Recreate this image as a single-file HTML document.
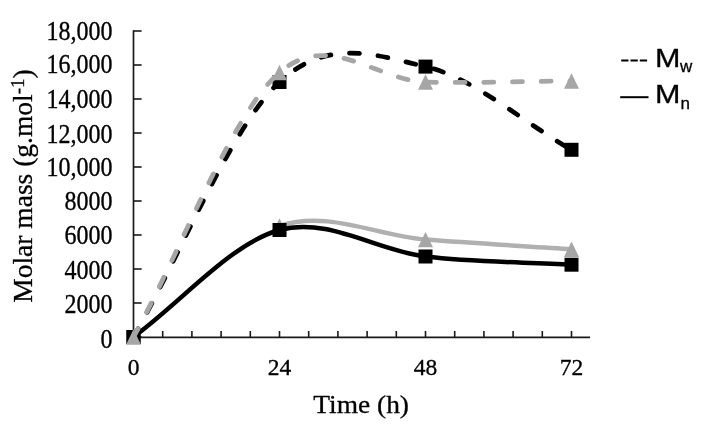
<!DOCTYPE html>
<html><head><meta charset="utf-8"><style>
html,body{margin:0;padding:0;background:#fff;}
svg{display:block;will-change:transform;}
.yl{font-family:"Liberation Serif",serif;font-size:24px;fill:#000;stroke:#000;stroke-width:0.3px;}
.xl{font-family:"Liberation Serif",serif;font-size:23.5px;fill:#000;stroke:#000;stroke-width:0.3px;}
.xt{font-family:"Liberation Serif",serif;font-size:26px;fill:#000;stroke:#000;stroke-width:0.3px;}
.yt{font-family:"Liberation Serif",serif;font-size:27.5px;fill:#000;stroke:#000;stroke-width:0.3px;}
.lg{font-family:"Liberation Sans",sans-serif;font-size:25px;fill:#000;stroke:#000;stroke-width:0.3px;}
.ls{font-family:"Liberation Sans",sans-serif;font-size:17px;fill:#000;stroke:#000;stroke-width:0.3px;}
</style></head><body>
<svg width="707" height="429" viewBox="0 0 707 429">
<rect width="707" height="429" fill="#fff"/>
<path d="M133.5,30.2 V337.4 H590" fill="none" stroke="#1a1a1a" stroke-width="1.7"/>
<line x1="133.5" y1="31.0" x2="141.6" y2="31.0" stroke="#1a1a1a" stroke-width="1.6"/>
<line x1="133.5" y1="65.0" x2="141.6" y2="65.0" stroke="#1a1a1a" stroke-width="1.6"/>
<line x1="133.5" y1="99.0" x2="141.6" y2="99.0" stroke="#1a1a1a" stroke-width="1.6"/>
<line x1="133.5" y1="133.0" x2="141.6" y2="133.0" stroke="#1a1a1a" stroke-width="1.6"/>
<line x1="133.5" y1="167.0" x2="141.6" y2="167.0" stroke="#1a1a1a" stroke-width="1.6"/>
<line x1="133.5" y1="201.0" x2="141.6" y2="201.0" stroke="#1a1a1a" stroke-width="1.6"/>
<line x1="133.5" y1="235.0" x2="141.6" y2="235.0" stroke="#1a1a1a" stroke-width="1.6"/>
<line x1="133.5" y1="269.0" x2="141.6" y2="269.0" stroke="#1a1a1a" stroke-width="1.6"/>
<line x1="133.5" y1="303.0" x2="141.6" y2="303.0" stroke="#1a1a1a" stroke-width="1.6"/>
<line x1="133.5" y1="337.0" x2="141.6" y2="337.0" stroke="#1a1a1a" stroke-width="1.6"/>
<line x1="162.7" y1="337.5" x2="162.7" y2="331" stroke="#1a1a1a" stroke-width="1.6"/>
<line x1="191.9" y1="337.5" x2="191.9" y2="331" stroke="#1a1a1a" stroke-width="1.6"/>
<line x1="221.1" y1="337.5" x2="221.1" y2="331" stroke="#1a1a1a" stroke-width="1.6"/>
<line x1="250.3" y1="337.5" x2="250.3" y2="331" stroke="#1a1a1a" stroke-width="1.6"/>
<line x1="279.5" y1="337.5" x2="279.5" y2="331" stroke="#1a1a1a" stroke-width="1.6"/>
<line x1="308.7" y1="337.5" x2="308.7" y2="331" stroke="#1a1a1a" stroke-width="1.6"/>
<line x1="337.9" y1="337.5" x2="337.9" y2="331" stroke="#1a1a1a" stroke-width="1.6"/>
<line x1="367.1" y1="337.5" x2="367.1" y2="331" stroke="#1a1a1a" stroke-width="1.6"/>
<line x1="396.3" y1="337.5" x2="396.3" y2="331" stroke="#1a1a1a" stroke-width="1.6"/>
<line x1="425.5" y1="337.5" x2="425.5" y2="331" stroke="#1a1a1a" stroke-width="1.6"/>
<line x1="454.7" y1="337.5" x2="454.7" y2="331" stroke="#1a1a1a" stroke-width="1.6"/>
<line x1="483.9" y1="337.5" x2="483.9" y2="331" stroke="#1a1a1a" stroke-width="1.6"/>
<line x1="513.1" y1="337.5" x2="513.1" y2="331" stroke="#1a1a1a" stroke-width="1.6"/>
<line x1="542.3" y1="337.5" x2="542.3" y2="331" stroke="#1a1a1a" stroke-width="1.6"/>
<line x1="571.5" y1="337.5" x2="571.5" y2="331" stroke="#1a1a1a" stroke-width="1.6"/>
<path d="M279.50,226.00 C328.17,209.77 376.83,235.73 425.50,239.60 C474.17,243.47 522.83,246.00 571.50,249.20" fill="none" stroke="#b0b0b0" stroke-width="4.5" stroke-linecap="round"/>
<path d="M279.50,218.30 L287.00,233.70 L272.00,233.70 Z" fill="#a6a6a6"/>
<path d="M425.50,231.90 L433.00,247.30 L418.00,247.30 Z" fill="#a6a6a6"/>
<path d="M571.50,241.50 L579.00,256.90 L564.00,256.90 Z" fill="#a6a6a6"/>
<path d="M133.50,337.00 C182.17,301.33 230.83,243.42 279.50,230.00 C328.17,216.58 376.83,250.72 425.50,256.50 C474.17,262.28 522.83,261.97 571.50,264.70" fill="none" stroke="#000" stroke-width="4.5" stroke-linecap="round"/>
<rect x="126.50" y="330.00" width="14" height="14" fill="#000"/>
<rect x="272.50" y="223.00" width="14" height="14" fill="#000"/>
<rect x="418.50" y="249.50" width="14" height="14" fill="#000"/>
<rect x="564.50" y="257.70" width="14" height="14" fill="#000"/>
<path d="M133.50,337.00 C182.17,252.00 230.83,127.07 279.50,82.00 C328.17,36.93 376.83,55.30 425.50,66.60 C474.17,77.90 522.83,122.07 571.50,149.80" fill="none" stroke="#000" stroke-width="4.75" stroke-dasharray="10 18.68" stroke-dashoffset="0.5" stroke-linecap="round"/>
<rect x="126.50" y="330.00" width="14" height="14" fill="#000"/>
<rect x="272.50" y="75.00" width="14" height="14" fill="#000"/>
<rect x="418.50" y="59.60" width="14" height="14" fill="#000"/>
<rect x="564.50" y="142.80" width="14" height="14" fill="#000"/>
<path d="M133.50,337.00 C182.17,248.83 230.83,115.00 279.50,72.50 C328.17,30.00 376.83,80.58 425.50,82.00 C474.17,83.42 522.83,81.33 571.50,81.00" fill="none" stroke="#a6a6a6" stroke-width="4.75" stroke-dasharray="10 18.68" stroke-dashoffset="0.5" stroke-linecap="round"/>
<path d="M133.50,329.30 L141.00,344.70 L126.00,344.70 Z" fill="#a6a6a6"/>
<path d="M279.50,64.80 L287.00,80.20 L272.00,80.20 Z" fill="#a6a6a6"/>
<path d="M425.50,74.30 L433.00,89.70 L418.00,89.70 Z" fill="#a6a6a6"/>
<path d="M571.50,73.30 L579.00,88.70 L564.00,88.70 Z" fill="#a6a6a6"/>
<text transform="translate(112.6,40.0) scale(1,1.17)" text-anchor="end" class="yl">18,000</text>
<text transform="translate(112.6,73.4) scale(1,1.17)" text-anchor="end" class="yl">16,000</text>
<text transform="translate(112.6,107.7) scale(1,1.17)" text-anchor="end" class="yl">14,000</text>
<text transform="translate(112.6,142.6) scale(1,1.17)" text-anchor="end" class="yl">12,000</text>
<text transform="translate(112.6,176.3) scale(1,1.17)" text-anchor="end" class="yl">10,000</text>
<text transform="translate(112.6,209.7) scale(1,1.17)" text-anchor="end" class="yl">8000</text>
<text transform="translate(112.6,244.2) scale(1,1.17)" text-anchor="end" class="yl">6000</text>
<text transform="translate(112.6,278.5) scale(1,1.17)" text-anchor="end" class="yl">4000</text>
<text transform="translate(112.6,313.3) scale(1,1.17)" text-anchor="end" class="yl">2000</text>
<text transform="translate(112.6,348.0) scale(1,1.17)" text-anchor="end" class="yl">0</text>
<text x="133.5" y="374.7" text-anchor="middle" class="xl">0</text>
<text x="279.5" y="374.7" text-anchor="middle" class="xl">24</text>
<text x="425.5" y="374.7" text-anchor="middle" class="xl">48</text>
<text x="571.5" y="374.7" text-anchor="middle" class="xl">72</text>
<text transform="translate(361.1,412.8) scale(1.055,1)" text-anchor="middle" class="xt">Time (h)</text>
<text transform="translate(32,186) rotate(-90)" text-anchor="middle" class="yt">Molar mass (g.mol<tspan dy="-8.5" font-size="19">-1</tspan><tspan dy="8.5">)</tspan></text>
<line x1="621.2" y1="60.5" x2="647.2" y2="60.5" stroke="#000" stroke-width="2" stroke-dasharray="7.3 2"/>
<line x1="620.2" y1="97.2" x2="648.5" y2="97.2" stroke="#000" stroke-width="2"/>
<text transform="translate(655,66.8) scale(1.22,1)" class="lg">M</text><text x="680" y="72" class="ls">w</text>
<text transform="translate(655,103.2) scale(1.22,1)" class="lg">M</text><text x="680.5" y="108.8" class="ls">n</text>
</svg>
</body></html>
